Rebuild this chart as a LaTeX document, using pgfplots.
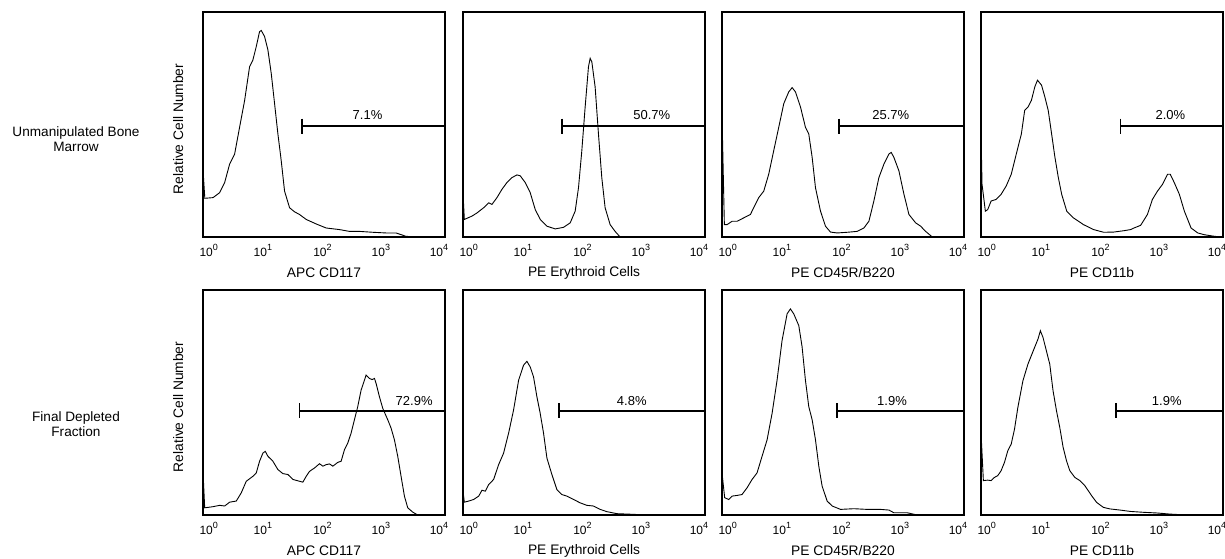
\documentclass[border=0pt]{standalone}
\usepackage{fontspec}
\setmainfont{Liberation Sans}
\usepackage{pgfplots}
\pgfplotsset{compat=1.18}

% decade tick label: 10 with raised exponent
\newcommand{\dec}[1]{10\raisebox{0.5em}{\fontsize{9}{9}\selectfont #1}}

\pgfplotsset{
  histo/.style={
    scale only axis, width=242pt, height=225pt,
    anchor=north west,
    xmin=0, xmax=4, ymin=0, ymax=100,
    axis line style={line width=1.6pt},
    % the instrument's decade labels sit slightly inside the frame
    xtick={0.094,0.99,1.975,2.94,3.90},
    xticklabels={\dec{0},\dec{1},\dec{2},\dec{3},\dec{4}},
    major tick length=0pt,
    ytick=\empty,
    tick label style={font=\fontsize{12}{13}\selectfont},
    xticklabel style={yshift=-4pt},
    label style={font=\fontsize{13.8}{15}\selectfont},
    xlabel style={at={(axis description cs:0.5,-0.16)}, anchor=center},
    ylabel style={at={(axis description cs:-0.103,0.48)}, anchor=center},
  },
  hist/.style={black, line width=0.9pt, no markers},
  gate/.style={black, line width=1.6pt, mark=|, mark indices={1},
    mark size=7.5pt, mark options={line width=1.6pt}},
}
\tikzset{pct/.style={font=\fontsize{13}{14}\selectfont}}

\begin{document}
\begin{tikzpicture}
\useasboundingbox (0pt,0pt) rectangle (1225pt,-558pt);

\node[align=center, font=\fontsize{13.6}{15.5}\selectfont] at (76pt,-139pt) {Unmanipulated Bone\\Marrow};
\node[align=center, font=\fontsize{13.6}{15.5}\selectfont] at (76pt,-424pt) {Final Depleted\\Fraction};

% ---- row 1: unmanipulated bone marrow
\begin{axis}[histo, at={(203pt,-12pt)}, xlabel={APC CD117}, ylabel={Relative Cell Number}]
\addplot[hist] coordinates {(0,30)(0.03,17.2)(0.165,17.5)(0.275,19.7)(0.358,24.2)(0.440,32.4)(0.523,36.9)(0.605,48.8)(0.688,60.7)(0.770,75.7)(0.825,78.7)(0.880,84.6)(0.935,91.3)(0.963,91.8)(1.018,89.1)(1.073,83.1)(1.128,72.7)(1.183,59.3)(1.238,45.8)(1.293,33.9)(1.348,20.4)(1.431,13.0)(1.513,11.2)(1.596,10.0)(1.706,7.8)(1.871,5.8)(2.036,4.0)(2.256,3.3)(2.421,2.5)(2.586,2.5)(2.806,2.1)(3.026,1.8)(3.191,1.8)(3.356,0.3)(3.521,0)(4,0)};
\addplot[gate] coordinates {(1.634,49.3)(4,49.3)};
\node[pct] at (axis cs:2.72,54.0) {7.1\%};
\end{axis}

\begin{axis}[histo, at={(463pt,-12pt)}, xlabel={PE Erythroid Cells}]
\addplot[hist] coordinates {(0,19.7)(0.022,7.8)(0.149,9.3)(0.231,10.7)(0.341,13.0)(0.424,15.2)(0.479,14.5)(0.561,17.5)(0.644,21.2)(0.726,24.2)(0.809,26.4)(0.891,27.6)(0.946,27.2)(1.029,24.2)(1.111,19.7)(1.194,12.2)(1.277,7.8)(1.387,4.8)(1.524,3.6)(1.662,4.3)(1.772,6.3)(1.854,11.5)(1.909,21.9)(1.964,38.4)(2.019,57.8)(2.074,75.7)(2.102,79.4)(2.129,77.9)(2.184,66.7)(2.239,45.8)(2.294,26.4)(2.349,13.0)(2.432,5.5)(2.514,2.5)(2.597,0)(4,0)};
\addplot[gate] coordinates {(1.634,49.3)(4,49.3)};
\node[pct] at (axis cs:3.12,54.0) {50.7\%};
\end{axis}

\begin{axis}[histo, at={(722pt,-12pt)}, xlabel={PE CD45R/B220}]
\addplot[hist] coordinates {(0,54)(0.039,5.5)(0.083,5.5)(0.166,7.0)(0.248,7.0)(0.359,8.5)(0.469,10.0)(0.524,13.0)(0.607,17.5)(0.690,20.4)(0.772,27.9)(0.855,38.4)(0.938,48.8)(1.021,59.3)(1.103,64.5)(1.159,66.4)(1.214,64.5)(1.297,57.8)(1.379,48.8)(1.434,45.8)(1.490,35.4)(1.545,21.9)(1.628,11.5)(1.710,4.8)(1.793,2.2)(1.903,1.8)(2.069,2.1)(2.234,2.5)(2.345,4.0)(2.428,7.0)(2.510,16.0)(2.593,26.4)(2.676,32.4)(2.759,36.9)(2.797,37.6)(2.841,35.4)(2.924,29.4)(3.007,19.0)(3.090,10.0)(3.200,6.3)(3.283,4.8)(3.366,2.5)(3.476,0)(4,0)};
\addplot[gate] coordinates {(1.931,49.3)(4,49.3)};
\node[pct] at (axis cs:2.79,54.0) {25.7\%};
\end{axis}

\begin{axis}[histo, at={(981pt,-12pt)}, xlabel={PE CD11b}]
\addplot[hist] coordinates {(0,46)(0.017,23.4)(0.072,11.5)(0.111,12.2)(0.167,16.0)(0.250,16.7)(0.333,19.0)(0.417,22.7)(0.500,27.9)(0.583,36.9)(0.667,45.8)(0.722,56.3)(0.778,57.8)(0.833,60.7)(0.889,66.7)(0.933,69.7)(1.000,67.5)(1.056,62.2)(1.111,56.3)(1.167,45.8)(1.222,35.4)(1.278,26.4)(1.333,19.0)(1.417,11.5)(1.528,8.5)(1.694,5.5)(1.861,3.3)(2.028,2.1)(2.194,2.2)(2.361,2.8)(2.472,3.3)(2.528,4.0)(2.639,5.2)(2.750,10.0)(2.833,16.7)(2.917,20.4)(3.000,23.4)(3.083,27.9)(3.128,27.9)(3.194,24.2)(3.278,19.0)(3.361,11.5)(3.472,4.0)(3.583,1.8)(3.694,1.0)(3.861,0.3)(3.972,0)(4,0)};
\addplot[gate] coordinates {(2.306,49.3)(4,49.3)};
\node[pct] at (axis cs:3.13,54.0) {2.0\%};
\end{axis}

% ---- row 2: final depleted fraction
\begin{axis}[histo, at={(203pt,-290pt)}, xlabel={APC CD117}, ylabel={Relative Cell Number}]
\addplot[hist] coordinates {(0,19.4)(0.028,3.2)(0.165,3.7)(0.275,4.3)(0.358,4.0)(0.440,5.7)(0.550,6.2)(0.633,9.9)(0.715,15.0)(0.825,17.2)(0.880,18.7)(0.935,23.9)(0.990,27.5)(1.029,28.3)(1.073,26.1)(1.155,23.9)(1.238,20.2)(1.320,18.4)(1.403,18.0)(1.486,15.8)(1.596,15.0)(1.651,14.6)(1.706,17.2)(1.761,19.4)(1.843,20.9)(1.926,22.8)(1.981,21.7)(2.036,22.4)(2.091,22.7)(2.146,21.7)(2.228,23.4)(2.283,23.9)(2.338,29.0)(2.393,32.0)(2.448,36.4)(2.503,42.3)(2.558,48.2)(2.613,55.5)(2.668,59.9)(2.696,62.2)(2.751,60.7)(2.795,60.2)(2.834,60.7)(2.861,58.5)(2.916,52.6)(2.971,47.4)(3.054,42.3)(3.109,38.6)(3.164,33.4)(3.219,26.1)(3.274,17.2)(3.329,8.4)(3.384,3.2)(3.466,1.3)(3.549,0)(4,0)};
\addplot[gate] coordinates {(1.596,46.3)(4,46.3)};
\node[pct] at (axis cs:3.49,50.8) {72.9\%};
\end{axis}

\begin{axis}[histo, at={(463pt,-290pt)}, xlabel={PE Erythroid Cells}]
\addplot[hist] coordinates {(0,10.6)(0.022,5.7)(0.094,6.2)(0.176,6.9)(0.259,8.4)(0.314,11.0)(0.369,10.6)(0.424,13.5)(0.506,15.8)(0.589,22.4)(0.671,27.5)(0.754,36.4)(0.836,46.7)(0.919,59.9)(1.001,66.6)(1.056,68.3)(1.111,65.8)(1.166,61.4)(1.221,52.6)(1.276,45.2)(1.331,36.4)(1.387,25.3)(1.469,18.0)(1.552,11.3)(1.634,9.1)(1.717,8.4)(1.827,6.9)(1.937,5.4)(2.047,4.3)(2.157,4.0)(2.267,2.5)(2.377,1.5)(2.542,0.6)(2.817,0.3)(3.037,0)(4,0)};
\addplot[gate] coordinates {(1.590,46.3)(4,46.3)};
\node[pct] at (axis cs:2.79,50.8) {4.8\%};
\end{axis}

\begin{axis}[histo, at={(722pt,-290pt)}, xlabel={PE CD45R/B220}]
\addplot[hist] coordinates {(0,18.7)(0.044,7.7)(0.110,6.9)(0.166,8.4)(0.248,8.7)(0.331,9.1)(0.414,12.1)(0.497,15.8)(0.579,18.7)(0.662,26.1)(0.745,33.4)(0.828,45.2)(0.910,59.9)(0.993,77.6)(1.076,89.4)(1.131,91.6)(1.186,89.4)(1.269,84.2)(1.324,74.7)(1.379,59.9)(1.434,48.2)(1.490,42.3)(1.545,33.4)(1.600,21.7)(1.655,12.8)(1.738,6.2)(1.821,4.0)(1.959,2.5)(2.179,2.8)(2.400,2.5)(2.621,2.5)(2.759,2.2)(2.841,1.0)(3.062,1.0)(3.227,0)(4,0)};
\addplot[gate] coordinates {(1.903,46.3)(4,46.3)};
\node[pct] at (axis cs:2.81,50.8) {1.9\%};
\end{axis}

\begin{axis}[histo, at={(981pt,-290pt)}, xlabel={PE CD11b}]
\addplot[hist] coordinates {(0,36.7)(0.039,15.3)(0.111,15.5)(0.166,15.3)(0.222,16.7)(0.277,17.5)(0.332,19.7)(0.388,23.4)(0.443,28.6)(0.499,31.5)(0.554,38.2)(0.609,47.8)(0.693,59.7)(0.776,67.1)(0.831,70.8)(0.886,74.5)(0.942,78.2)(0.981,81.9)(1.025,78.9)(1.080,73.0)(1.136,67.1)(1.191,55.2)(1.247,46.4)(1.302,38.9)(1.357,30.1)(1.413,24.1)(1.468,19.7)(1.551,16.7)(1.634,15.3)(1.717,13.0)(1.773,10.8)(1.828,8.6)(1.911,5.6)(2.022,3.4)(2.133,2.7)(2.299,2.2)(2.465,1.6)(2.687,1.2)(2.909,0.9)(3.130,0.4)(3.407,0)(4,0)};
\addplot[gate] coordinates {(2.233,46.3)(4,46.3)};
\node[pct] at (axis cs:3.07,50.8) {1.9\%};
\end{axis}
\end{tikzpicture}
\end{document}
